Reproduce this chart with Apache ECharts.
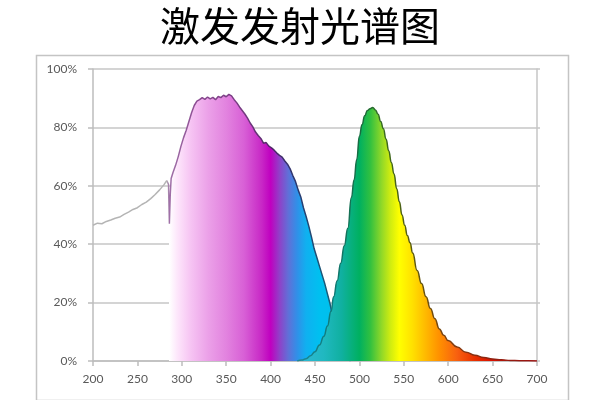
<!DOCTYPE html>
<html>
<head>
<meta charset="utf-8">
<script src="https://cdn.jsdelivr.net/npm/echarts@6/dist/echarts.min.js"></script>
<style>html,body{margin:0;padding:0;background:#fff}#c{width:600px;height:400px}</style>
</head>
<body>
<div id="c"></div>
<script>
var titleText = "激发发射光谱图";
var xTicks = [200, 250, 300, 350, 400, 450, 500, 550, 600, 650, 700];
var yTicks = [0, 20, 40, 60, 80, 100];

// excitation spectrum (nm, %)
var excitationWl = [200,205,210,215,220,225,230,235,240,245,250,255,260,265,270,275,280,283,285,286,287,288,290,293,296,299,302,305,308,311,314,317,320,323,326,329,332,335,338,341,344,347,350,353,356,359,362,365,368,371,374,377,380,383,386,389,392,395,398,401,404,407,410,413,416,419,422,425,428,431,434,437,440,443,446,449,452,455,458,461,464,467,470,473,476,479,482,486,490];
var excitationVal = [46.5,47.2,47.0,47.8,48.3,48.9,49.3,50.2,51.0,51.9,52.5,53.6,54.4,55.6,57.0,58.6,60.4,61.8,60.5,47,57,62.5,64.5,67,70,73.5,76.5,79,82,85,87.5,89,89.5,90.2,89.6,90.4,89.8,90.3,89.5,90.6,90.2,91,90.5,91.3,90.8,89.5,88.4,87,85.8,84.6,83.2,81.5,80.2,78.4,77.2,76.2,74.6,74.8,73.6,73,72.2,71.2,70.4,69.8,68.5,67.4,65.8,63.5,61.5,58.6,56.2,52.5,49.5,46.2,42.5,38.5,35.5,32.5,29.5,26.5,23,19.5,15,11,7.5,4.5,2.5,1,0];

// emission spectrum (nm, %)
var emissionWl = [430,435,440,445,450,455,460,464,468,471,475,479,483,487,491,494,497,500,503,506,509,512,515,518,521,524,527,530,533,536,539,542,545,548,551,554,557,560,565,570,575,580,585,590,595,600,610,620,630,640,650,660,670,680,690,700];
var emissionVal = [0,0.3,0.8,1.8,3.2,5.5,8.5,12,17,22,27.5,33.5,39.5,45.5,56,62,69,77,81,84,85.8,86.4,86.8,86,84.5,82,79.5,76,72,68,64,59,54.5,50,46.5,43,40.5,37,31,26.5,22,18,14.5,11,8.8,7,4.8,3,2,1.2,0.7,0.4,0.2,0.1,0.05,0];

// colour stops along wavelength
var excFillWl  = [200, 285.9, 286, 295, 310, 330, 350, 370, 390, 400, 410, 420, 430, 440, 455, 490];
var excFillCol = ['rgba(255,255,255,0)','rgba(255,255,255,0)','#ffffff','#fde6fb','#f6c4f3','#eba0e8','#e283df','#d860d6','#c828c6','#c000c0','#9040c8','#6070d8','#3090e8','#10b0f0','#00c0f0','#00c0e8'];
var excLineWl  = [200, 284, 287, 320, 370, 400, 430, 460, 490];
var excLineCol = ['#b4b4b4','#b4b4b4','#a070a8','#8a4a90','#743a80','#502868','#283a70','#1a5a78','#1a6a80'];
var emiFillWl  = [430, 460, 480, 500, 512, 525, 535, 545, 560, 575, 590, 610, 630, 650, 700];
var emiFillCol = ['#30b8d8','#20b8c0','#10b0a0','#00b060','#30c040','#90d828','#d0ec10','#ffff00','#ffe000','#ffb800','#ff9000','#f86010','#e83000','#d81000','#c00000'];
var emiLineWl  = [430, 470, 505, 530, 560, 600, 650, 700];
var emiLineCol = ['#208a9a','#0e7a7a','#1a6a3a','#3a6a20','#5a5a10','#804010','#902010','#a01010'];

function pairs(xs, ys) { return xs.map(function (x, i) { return [x, ys[i]]; }); }
function grad(ws, cols) {
  var a = ws[0], b = ws[ws.length - 1];
  return new echarts.graphic.LinearGradient(0, 0, 1, 0, ws.map(function (w, i) {
    return { offset: (w - a) / (b - a), color: cols[i] };
  }));
}

var chart = echarts.init(document.getElementById('c'));
var labelStyle = { color: '#595959', fontSize: 12, fontFamily: 'Lato' };
chart.setOption({
  animation: false,
  title: {
    text: titleText, left: 'center', top: 1,
    textStyle: { fontSize: 40, fontWeight: 'normal', color: '#000', fontFamily: 'Noto Sans CJK SC' }
  },
  graphic: [{
    type: 'rect', left: 34, top: 53, silent: true,
    shape: { width: 532, height: 345 },
    style: { fill: 'none', stroke: '#c4c4c4', lineWidth: 1.5 }
  }],
  grid: { left: 93, right: 63, top: 69, bottom: 39 },
  xAxis: {
    type: 'value', min: 200, max: 700, interval: 50,
    axisLine: { show: true, onZero: false, lineStyle: { color: '#bdbdbd', width: 1.5 } },
    axisTick: { show: true, length: 5, lineStyle: { color: '#bdbdbd', width: 1.5 } },
    axisLabel: Object.assign({ margin: 12 }, labelStyle),
    splitLine: { show: false }
  },
  yAxis: [{
    type: 'value', min: 0, max: 100, interval: 20,
    axisLine: { show: true, lineStyle: { color: '#bdbdbd', width: 1.5 } },
    axisTick: { show: true, length: 5, lineStyle: { color: '#bdbdbd', width: 1.5 } },
    axisLabel: Object.assign({ margin: 16, formatter: '{value}%' }, labelStyle),
    splitLine: { show: true, lineStyle: { color: '#c6c6c6', width: 1.5 } }
  }, {
    type: 'value', min: 0, max: 100, interval: 20, position: 'right',
    axisLine: { show: true, lineStyle: { color: '#c6c6c6', width: 1.5 } },
    axisTick: { show: true, length: 3, lineStyle: { color: '#c6c6c6', width: 1.5 } },
    axisLabel: { show: false },
    splitLine: { show: false }
  }],
  series: [{
    name: '激发', type: 'line', symbol: 'none', smooth: false, z: 2,
    data: pairs(excitationWl, excitationVal),
    lineStyle: { width: 1.5, color: grad(excLineWl, excLineCol) },
    areaStyle: { opacity: 1, color: grad(excFillWl, excFillCol) }
  }, {
    name: '发射', type: 'line', symbol: 'none', smooth: true, smoothMonotone: 'x', z: 3,
    data: pairs(emissionWl, emissionVal),
    lineStyle: { width: 1.5, color: grad(emiLineWl, emiLineCol) },
    areaStyle: { opacity: 1, color: grad(emiFillWl, emiFillCol) }
  }]
});
</script>
</body>
</html>
